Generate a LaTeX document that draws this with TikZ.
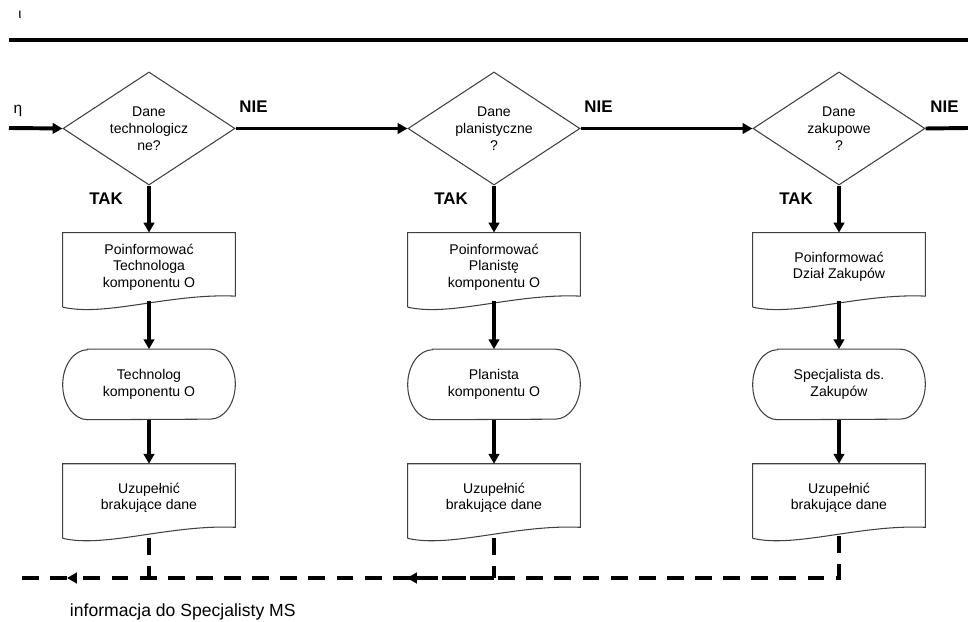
\documentclass[tikz,border=0pt]{standalone}
\usepackage{fontspec}
\setmainfont{Liberation Sans}
\usetikzlibrary{calc}
\usetikzlibrary{arrows.meta}
\usetikzlibrary{shapes.geometric}
\usetikzlibrary{positioning}

\tikzset{
  shapeline/.style={draw=black!75, line width=0.75pt},
  decision/.style={diamond, shapeline, aspect=1.52, minimum width=4.3cm, minimum height=2.825cm, inner sep=0pt, align=center, font=\fontsize{10}{12.2}\selectfont},
  docbox/.style={rectangle, minimum width=4.3cm, minimum height=1.7cm, inner sep=0pt, align=center, font=\fontsize{10}{11.7}\selectfont},
  termbox/.style={rectangle, minimum width=4.3cm, minimum height=1.75cm, inner sep=0pt, align=center, font=\fontsize{10}{11.7}\selectfont},
  flow/.style={line width=2.8pt, -{Triangle[length=7pt,width=7.5pt]}},
  flowline/.style={line width=2.8pt},
  info/.style={line width=2.8pt, dash pattern=on 12pt off 8pt},
  infoarrow/.style={info, -{Triangle[length=7pt,width=7.5pt]}},
  yesno/.style={font=\bfseries\fontsize{12}{14}\selectfont}
}

\newcommand\docoutline[1]{%
  \draw[shapeline] ($(#1.south west)+(0,6)$) -- (#1.north west) -- (#1.north east) -- ($(#1.south east)+(0,-5)$)
    .. controls ($(#1.south)+(21,-8)$) and ($(#1.south)+(-44,16)$) .. ($(#1.south west)+(0,6)$);}
\newcommand\termoutline[1]{%
  \draw[shapeline] ($(#1.north west)+(25,0)$) -- ($(#1.north east)+(-25,0)$)
    arc[start angle=90,end angle=-90,x radius=0.625cm,y radius=0.875cm]
    -- ($(#1.south west)+(25,0)$)
    arc[start angle=270,end angle=90,x radius=0.625cm,y radius=0.875cm] -- cycle;}

\begin{document}
\begin{tikzpicture}[x=0.025cm,y=-0.025cm]

\useasboundingbox (0,0) rectangle (968,622);

\coordinate (topL) at (9,40);
\coordinate (topR) at (968,40);
\coordinate (in) at (9,128);
\coordinate (out) at (968,128);
\coordinate (bus) at (0,578);
\coordinate (tip2) at (407,578);
\coordinate (tip1) at (67,578);
\coordinate (busend) at (15,578);

\node[font=\fontsize{10}{12}\selectfont] (iota) at (20,15) {ι};
\node[font=\fontsize{11}{13}\selectfont] (eta) at (18,111) {η};
\draw[flowline] (topL)--(topR);

% decisions
\node[decision] (dec1) at (149,128.5) {Dane\\technologicz\\ne?};
\node[decision] (dec2) at (494,128.5) {Dane\\planistyczne\\?};
\node[decision] (dec3) at (839,128.5) {Dane\\zakupowe\\?};

% first row of documents
\node[docbox, below=1.175cm of dec1] (doc1) {Poinformować\\Technologa\\komponentu O};
\node[docbox, below=1.175cm of dec2] (doc2) {Poinformować\\Planistę\\komponentu O};
\node[docbox, below=1.175cm of dec3] (doc3) {Poinformować\\Dział Zakupów};

% terminals
\node[termbox, below=1.2cm of doc1] (term1) {Technolog\\komponentu O};
\node[termbox, below=1.2cm of doc2] (term2) {Planista\\komponentu O};
\node[termbox, below=1.2cm of doc3] (term3) {Specjalista ds.\\Zakupów};

% second row of documents
\node[docbox, below=1.1cm of term1] (doc4) {Uzupełnić\\brakujące dane};
\node[docbox, below=1.1cm of term2] (doc5) {Uzupełnić\\brakujące dane};
\node[docbox, below=1.1cm of term3] (doc6) {Uzupełnić\\brakujące dane};

\docoutline{doc1}
\docoutline{doc2}
\docoutline{doc3}
\docoutline{doc4}
\docoutline{doc5}
\docoutline{doc6}
\termoutline{term1}
\termoutline{term2}
\termoutline{term3}

\draw[flow] (in)--(dec1.west);
\draw[flow] (dec1.east)--(dec2.west);
\draw[flow] (dec2.east)--(dec3.west);
\draw[flowline] (dec3.east)--(out);

\node[yesno] (nie1) at ($(dec1.east)+(18,-22)$) {NIE};
\node[yesno] (nie2) at ($(dec2.east)+(18,-22)$) {NIE};
\node[yesno] (nie3) at ($(dec3.east)+(19,-22)$) {NIE};
\node[yesno] (tak1) at ($(dec1.south)+(-43,13)$) {TAK};
\node[yesno] (tak2) at ($(dec2.south)+(-43,13)$) {TAK};
\node[yesno] (tak3) at ($(dec3.south)+(-43,13)$) {TAK};

\draw[flow] (dec1.south)--(doc1.north);
\draw[flow] (doc1.south)--(term1.north);
\draw[flow] (term1.south)--(doc4.north);
\draw[flow] (dec2.south)--(doc2.north);
\draw[flow] (doc2.south)--(term2.north);
\draw[flow] (term2.south)--(doc5.north);
\draw[flow] (dec3.south)--(doc3.north);
\draw[flow] (doc3.south)--(term3.north);
\draw[flow] (term3.south)--(doc6.north);

% information back to MS
\draw[infoarrow] ($(doc6.south)+(0,4)$)--(doc6.south |- bus)--(tip2);
\draw[info] ($(doc5.south)+(0,6)$)--(doc5.south |- bus);
\draw[infoarrow] (doc5.south |- bus)--(tip1);
\draw[info] ($(doc4.south)+(0,6)$)--(doc4.south |- bus);
\draw[info] (tip1)--(busend);

\node[anchor=base west, font=\fontsize{12.5}{14}\selectfont] (msinfo) at (65,617) {informacja do Specjalisty MS};

\end{tikzpicture}
\end{document}
